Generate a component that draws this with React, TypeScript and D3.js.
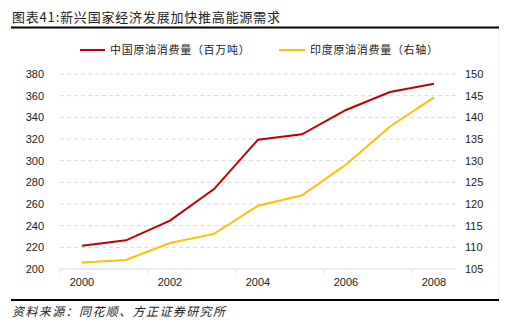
import React from "react";
import * as d3 from "d3";

const years = ["2000", "2001", "2002", "2003", "2004", "2005", "2006", "2007", "2008"];
const chinaOil = [221.5, 226.5, 244.6, 273.8, 319.4, 324.3, 346.8, 363.4, 371.0];
const indiaOil = [106.5, 107.1, 111.0, 113.1, 119.6, 122.0, 129.1, 137.9, 144.6];
const leftTicks = [200, 220, 240, 260, 280, 300, 320, 340, 360, 380];
const rightTicks = [105, 110, 115, 120, 125, 130, 135, 140, 145, 150];
const xLabels = ["2000", "2002", "2004", "2006", "2008"];
const title = "图表41:新兴国家经济发展加快推高能源需求";
const legendNames = ["中国原油消费量（百万吨）", "印度原油消费量（右轴）"];
const source = "资料来源：同花顺、方正证券研究所";

const W = 506, H = 332;
const plot = { left: 60, right: 456, top: 74, bottom: 269 };
const RED = "#C00000";
const YEL = "#FFC000";
const font = "'Liberation Sans', Arial, sans-serif";
const cjk = "'Noto Sans CJK SC', sans-serif";

export default function App() {
  const x = d3.scaleBand().domain(years).range([plot.left, plot.right]);
  const xc = (y: string) => (x(y) as number) + x.bandwidth() / 2;
  const yL = d3.scaleLinear().domain([200, 380]).range([plot.bottom, plot.top]);
  const yR = d3.scaleLinear().domain([105, 150]).range([plot.bottom, plot.top]);
  const lineL = d3.line<number>().x((_, i) => xc(years[i])).y((d) => yL(d));
  const lineR = d3.line<number>().x((_, i) => xc(years[i])).y((d) => yR(d));
  const boundaryTicks = years.filter((_, i) => i % 2 === 0).map((y) => x(y) as number);

  return (
    <svg width={W} height={H} style={{ position: "absolute", left: 0, top: 0, background: "#fff" }}>
      <rect x={0} y={0} width={W} height={H} fill="#fff" />
      <text x={12} y={22} fontFamily={cjk} fontSize={13} letterSpacing={0.8} fill="#222">{title}</text>
      <line x1={11} x2={499} y1={27.5} y2={27.5} stroke="#000" strokeWidth={2} />
      <line x1={499} x2={499} y1={29} y2={299} stroke="#eeeeee" strokeWidth={1} />

      {/* legend */}
      <line x1={80} x2={105} y1={50} y2={50} stroke={RED} strokeWidth={2} />
      <text x={110} y={54} fontFamily={cjk} fontSize={11} letterSpacing={0.7} fill="#222">{legendNames[0]}</text>
      <line x1={279} x2={305} y1={50} y2={50} stroke={YEL} strokeWidth={2} />
      <text x={310} y={54} fontFamily={cjk} fontSize={11} letterSpacing={0.7} fill="#222">{legendNames[1]}</text>

      {/* grid */}
      {leftTicks.slice(1).map((t) => (
        <line key={t} x1={plot.left} x2={plot.right} y1={yL(t)} y2={yL(t)} stroke="#d9d9d9" strokeWidth={1} strokeDasharray="4,3" />
      ))}
      <line x1={plot.left} x2={plot.right} y1={plot.bottom} y2={plot.bottom} stroke="#d9d9d9" strokeWidth={1} />
      {boundaryTicks.map((t, i) => (
        <line key={i} x1={t} x2={t} y1={plot.bottom} y2={plot.bottom + 4} stroke="#d9d9d9" strokeWidth={1} />
      ))}

      {/* axes labels */}
      {leftTicks.map((t) => (
        <text key={t} x={44} y={yL(t) + 4} textAnchor="end" fontFamily={font} fontSize={11} fill="#222">{t}</text>
      ))}
      {rightTicks.map((t) => (
        <text key={t} x={465} y={yR(t) + 4} textAnchor="start" fontFamily={font} fontSize={11} fill="#222">{t}</text>
      ))}
      {xLabels.map((l) => (
        <text key={l} x={xc(l)} y={286} textAnchor="middle" fontFamily={font} fontSize={11} fill="#222">{l}</text>
      ))}

      <path d={lineR(indiaOil) || ""} fill="none" stroke={YEL} strokeWidth={2} />
      <path d={lineL(chinaOil) || ""} fill="none" stroke={RED} strokeWidth={2} />

      <line x1={11} x2={499} y1={300} y2={300} stroke="#000" strokeWidth={2} />
      <text x={12} y={316} fontFamily={cjk} fontSize={12} letterSpacing={1.4} fontStyle="italic" fill="#222">{source}</text>
    </svg>
  );
}
